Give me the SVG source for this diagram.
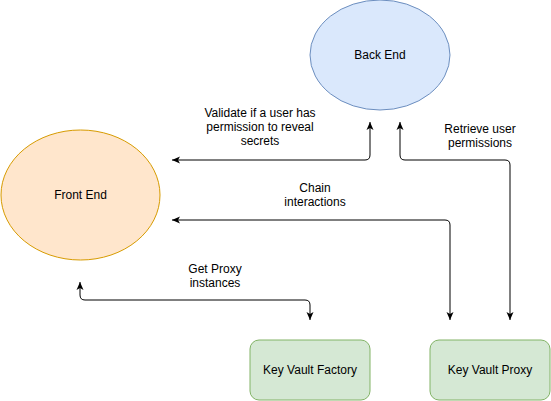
<svg xmlns="http://www.w3.org/2000/svg" width="551" height="401" viewBox="0 0 551 401">
<style>
text{font-family:"Liberation Sans",Arial,sans-serif;font-size:12px;fill:#000;text-anchor:middle}
.c{fill:none;stroke:#000;stroke-width:1}
</style>
<defs>
<marker id="a" viewBox="0 0 8 8" refX="8" refY="4" markerWidth="8" markerHeight="8" markerUnits="userSpaceOnUse" orient="auto-start-reverse">
<path d="M0,0.5 L8,4 L0,7.5 L2,4 z" fill="#000"/>
</marker>
</defs>
<rect width="551" height="401" fill="#fff"/>
<g id="connectors">
<path class="c" d="M370,122 L370,155 Q370,160 365,160 L172,160" marker-start="url(#a)" marker-end="url(#a)"/>
<path class="c" d="M400,122 L400,155 Q400,160 405,160 L505,160 Q510,160 510,165 L510,320" marker-start="url(#a)" marker-end="url(#a)"/>
<path class="c" d="M172,220 L445,220 Q450,220 450,225 L450,320" marker-start="url(#a)" marker-end="url(#a)"/>
<path class="c" d="M80,282 L80,295 Q80,300 85,300 L305,300 Q310,300 310,305 L310,320" marker-start="url(#a)" marker-end="url(#a)"/>
<text x="260" y="117">Validate if a user has</text>
<text x="260" y="131">permission to reveal</text>
<text x="260" y="145">secrets</text>
<text x="480" y="133">Retrieve user</text>
<text x="480" y="147">permissions</text>
<text x="315" y="192">Chain</text>
<text x="315" y="206">interactions</text>
<text x="215" y="273">Get Proxy</text>
<text x="215" y="287">instances</text>
</g>
<g id="back-end">
<ellipse cx="380" cy="55" rx="70" ry="55" fill="#dae8fc" stroke="#6c8ebf"/>
<text x="380" y="59">Back End</text>
</g>
<g id="front-end">
<ellipse cx="80.5" cy="195" rx="79.5" ry="65" fill="#ffe6cc" stroke="#d79b00"/>
<text x="80.5" y="199">Front End</text>
</g>
<g id="key-vault-factory">
<rect x="250" y="340" width="120" height="60" rx="9" fill="#d5e8d4" stroke="#82b366"/>
<text x="310" y="374">Key Vault Factory</text>
</g>
<g id="key-vault-proxy">
<rect x="430" y="340" width="120" height="60" rx="9" fill="#d5e8d4" stroke="#82b366"/>
<text x="490" y="374">Key Vault Proxy</text>
</g>
</svg>
